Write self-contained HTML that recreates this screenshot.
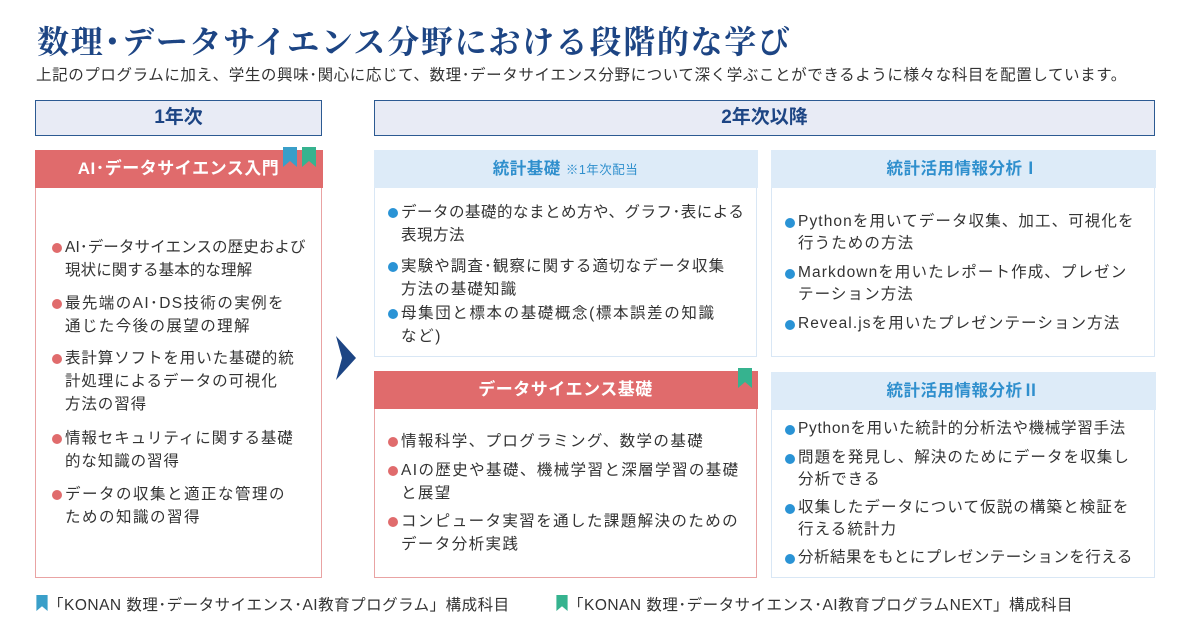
<!DOCTYPE html>
<html><head><meta charset="utf-8"><style>
*{margin:0;padding:0;box-sizing:border-box}
body{width:1189px;height:632px;background:#fff;position:relative;overflow:hidden;font-family:"Liberation Sans","Noto Sans CJK JP",sans-serif;color:#333}
.a{position:absolute}
h1{position:absolute;left:37px;top:17px;font-family:"Liberation Serif","Noto Serif CJK SC",serif;font-size:32px;font-weight:bold;color:#1d4584;letter-spacing:1.7px;white-space:nowrap}
.sub{left:36px;top:63px;font-size:15.5px;color:#333;white-space:nowrap;letter-spacing:0.6px}
.yr{background:#e8ebf5;border:1.5px solid #2c5a92;color:#1d4584;font-weight:bold;font-size:19px;text-align:center;line-height:33px}
.card{border:1.5px solid #e9a3a3;background:#fff}
.card.b{border-color:#d9e7f5}
.hd{position:absolute;left:-1.5px;right:-1.5px;top:-1.5px;height:38px;line-height:38px;text-align:center;font-weight:bold;font-size:17px;letter-spacing:0.5px}
.r .hd{background:#e06b6c;color:#fff}
.b .hd{background:#ddebf8;color:#2f8fcd;font-size:16.5px}
.it{position:absolute;font-size:15.5px;line-height:23px;white-space:nowrap;padding-left:13px}
.it:before{content:"";position:absolute;left:0;top:7px;width:10px;height:10px;border-radius:50%;background:#e06b6c}
.b .it:before{background:#2a93d5}
.bm{position:absolute;width:14px;height:20px}
.L .it{letter-spacing:0.9px}
.S .it{letter-spacing:0.5px}
.D .it{letter-spacing:1.4px}
.R .it{letter-spacing:1.1px}
.ft{font-size:15.5px;white-space:nowrap;letter-spacing:0.5px}
</style></head><body>
<h1>数理･データサイエンス分野における段階的な学び</h1>
<div class="a sub">上記のプログラムに加え、学生の興味･関心に応じて、数理･データサイエンス分野について深く学ぶことができるように様々な科目を配置しています。</div>
<div class="a yr" style="left:35px;top:100px;width:287px;height:36px">1年次</div>
<div class="a yr" style="left:374px;top:100px;width:781px;height:36px">2年次以降</div>

<div class="a card r L" style="left:35px;top:150px;width:287px;height:428px">
<div class="hd">AI･データサイエンス入門</div>
<svg class="bm" style="left:247px;top:-4px" viewBox="0 0 14 20"><path d="M0 0H14V20L7 14L0 20Z" fill="#3a9fc9"/></svg>
<svg class="bm" style="left:266px;top:-4px" viewBox="0 0 14 20"><path d="M0 0H14V20L7 14L0 20Z" fill="#36b38f"/></svg>
<div class="it" style="left:16px;top:85px;letter-spacing:0.1px">AI･データサイエンスの歴史および<br>現状に関する基本的な理解</div>
<div class="it" style="left:16px;top:141px;letter-spacing:1.4px">最先端のAI･DS技術の実例を<br>通じた今後の展望の理解</div>
<div class="it" style="left:16px;top:196px">表計算ソフトを用いた基礎的統<br>計処理によるデータの可視化<br>方法の習得</div>
<div class="it" style="left:16px;top:276px">情報セキュリティに関する基礎<br>的な知識の習得</div>
<div class="it" style="left:16px;top:332px;letter-spacing:1.5px">データの収集と適正な管理の<br>ための知識の習得</div>
</div>

<svg class="a" style="left:336px;top:336px" width="22" height="44" viewBox="0 0 22 44"><path d="M0 0L20 22L0 44L6 22Z" fill="#1d4584"/></svg>

<div class="a card b S" style="left:374px;top:150px;width:383px;height:207px">
<div class="hd">統計基礎 <span style="font-weight:normal;font-size:12.5px">※1年次配当</span></div>
<div class="it" style="left:13px;top:50px">データの基礎的なまとめ方や、グラフ･表による<br>表現方法</div>
<div class="it" style="left:13px;top:104px;letter-spacing:1.1px">実験や調査･観察に関する適切なデータ収集<br>方法の基礎知識</div>
<div class="it" style="left:13px;top:151px;letter-spacing:1.6px">母集団と標本の基礎概念(標本誤差の知識<br>など)</div>
</div>

<div class="a card r D" style="left:374px;top:371px;width:383px;height:207px">
<div class="hd">データサイエンス基礎</div>
<svg class="bm" style="left:363px;top:-4px" viewBox="0 0 14 20"><path d="M0 0H14V20L7 14L0 20Z" fill="#36b38f"/></svg>
<div class="it" style="left:13px;top:58px">情報科学、プログラミング、数学の基礎</div>
<div class="it" style="left:13px;top:87px">AIの歴史や基礎、機械学習と深層学習の基礎<br>と展望</div>
<div class="it" style="left:13px;top:138px">コンピュータ実習を通した課題解決のための<br>データ分析実践</div>
</div>

<div class="a card b R" style="left:771px;top:150px;width:384px;height:207px">
<div class="hd">統計活用情報分析Ⅰ</div>
<div class="it" style="left:13px;top:60px;line-height:22px">Pythonを用いてデータ収集、加工、可視化を<br>行うための方法</div>
<div class="it" style="left:13px;top:111px;line-height:22px">Markdownを用いたレポート作成、プレゼン<br>テーション方法</div>
<div class="it" style="left:13px;top:162px;line-height:22px">Reveal.jsを用いたプレゼンテーション方法</div>
</div>

<div class="a card b R" style="left:771px;top:372px;width:384px;height:206px">
<div class="hd">統計活用情報分析Ⅱ</div>
<div class="it" style="left:13px;top:45px;line-height:22px;letter-spacing:0.7px">Pythonを用いた統計的分析法や機械学習手法</div>
<div class="it" style="left:13px;top:74px;line-height:22px">問題を発見し、解決のためにデータを収集し<br>分析できる</div>
<div class="it" style="left:13px;top:124px;line-height:22px">収集したデータについて仮説の構築と検証を<br>行える統計力</div>
<div class="it" style="left:13px;top:174px;line-height:22px;letter-spacing:0.5px">分析結果をもとにプレゼンテーションを行える</div>
</div>

<svg class="a" style="left:36px;top:595px" width="12" height="16" viewBox="0 0 14 20"><path d="M0 0H14V20L7 14L0 20Z" fill="#3a9fc9"/></svg>
<div class="a ft" style="left:48px;top:593px">「KONAN 数理･データサイエンス･AI教育プログラム」構成科目</div>
<svg class="a" style="left:556px;top:595px" width="12" height="16" viewBox="0 0 14 20"><path d="M0 0H14V20L7 14L0 20Z" fill="#36b38f"/></svg>
<div class="a ft" style="left:568px;top:593px">「KONAN 数理･データサイエンス･AI教育プログラムNEXT」構成科目</div>
</body></html>
